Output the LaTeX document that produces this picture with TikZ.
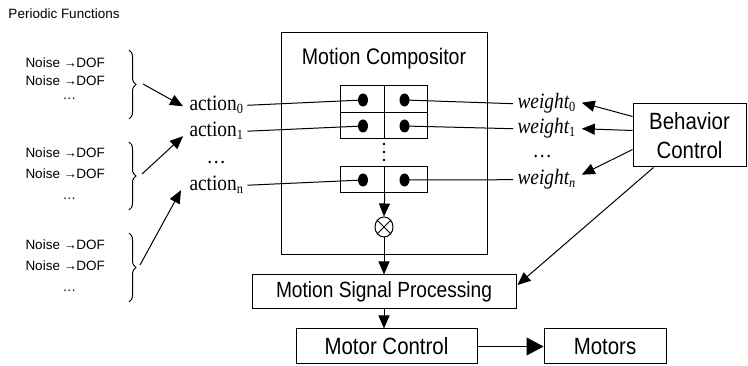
\documentclass[tikz,border=0pt]{standalone}
\usepackage{fontspec}
\setmainfont{Liberation Serif}
\setsansfont{Liberation Sans}
\newfontfamily\condsans{Liberation Sans}[FakeStretch=0.87]
\newfontfamily\condserif{Liberation Serif}[FakeStretch=0.88]
\usetikzlibrary{arrows.meta,shapes.geometric,decorations.pathreplacing}
\newcommand\fsz[2]{\fontsize{#1}{#2}\selectfont}
\newcommand\lowsub[1]{\raisebox{-3pt}{\fsz{14}{14}#1}}
\newcommand\nd{Noise →\kern-1pt DOF}
\begin{document}
\begin{tikzpicture}[x=1pt,y=-1pt,
  line width=1pt,
  arr/.style={-{Triangle[length=13pt,width=11pt]}},
  bigarr/.style={-{Triangle[length=17pt,width=18pt]}},
  box/.style={draw,line width=1pt,inner sep=0pt,font=\condsans},
  cellbox/.style={draw,line width=1pt,inner sep=0pt,minimum width=43.5pt,minimum height=26.5pt},
  blob/.style={ellipse,fill,inner sep=0pt,minimum width=10pt,minimum height=13pt},
  noise/.style={anchor=west,inner sep=0pt,font=\sffamily\fsz{13.5}{14}},
  ndots/.style={anchor=base west,inner sep=0pt,font=\sffamily\fsz{13.5}{14}},
  act/.style={anchor=base west,inner sep=0pt,font=\condserif\fsz{22}{22}},
  wt/.style={anchor=base west,inner xsep=4pt,inner ysep=0pt,font=\condserif\itshape\fsz{22}{22}},
  brc/.style={decorate,decoration={brace,amplitude=7pt},line width=1pt}
]
\useasboundingbox (0,0) rectangle (748,366);

% title
\node[anchor=west,inner sep=0pt,font=\sffamily\fsz{13.5}{14}] (pf) at (8,14) {Periodic Functions};

% noise groups
\node[noise] (n11) at (25,63) {\nd};
\node[noise] (n12) at (25,81) {\nd};
\node[ndots] (n13) at (62,100) {\dots};
\node[noise] (n21) at (25,153) {\nd};
\node[noise] (n22) at (25,174) {\nd};
\node[ndots] (n23) at (62,200) {\dots};
\node[noise] (n31) at (25,245) {\nd};
\node[noise] (n32) at (25,266) {\nd};
\node[ndots] (n33) at (62,292) {\dots};

\draw[brc] (129,50) -- (129,119);
\draw[brc] (129,142) -- (129,210);
\draw[brc] (129,233) -- (129,302);
\coordinate (b1) at (143,84);
\coordinate (b2) at (142,174);
\coordinate (b3) at (140,265);

% actions
\node[act] (a0) at (189,111) {action\lowsub{0}};
\node[act] (a1) at (189,137) {action\lowsub{1}};
\node[act] (ad) at (206,164) {\dots};
\node[act] (an) at (189,191) {action\lowsub{n}};

\draw[arr] (b1) -- ([xshift=-6pt,yshift=-1pt]a0.west);
\draw[arr] (b2) -- ([xshift=-6pt,yshift=-5pt]a1.west);
\draw[arr] (b3) -- ([xshift=-8pt,yshift=-5pt]an.west);

% compositor
\node[box,minimum width=206pt,minimum height=222pt] (comp) at (384,144) {};
\node[anchor=base,inner sep=0pt,font=\condsans\fsz{22.5}{23}] (ctitle) at (384,65) {Motion Compositor};

\node[cellbox] (c0l) at (362.5,99) {};
\node[cellbox] (c0r) at (406,99) {};
\node[cellbox] (c1l) at (362.5,125.5) {};
\node[cellbox] (c1r) at (406,125.5) {};
\node[cellbox] (cnl) at (362.5,179.5) {};
\node[cellbox] (cnr) at (406,179.5) {};

\node[blob] (d0l) at (363,100) {};
\node[blob] (d0r) at (404.5,100) {};
\node[blob] (d1l) at (363,126) {};
\node[blob] (d1r) at (404.5,126) {};
\node[blob] (dnl) at (363,180) {};
\node[blob] (dnr) at (404.5,180) {};

\fill (384,144) circle (1.3);
\fill (384,152) circle (1.3);
\fill (384,160) circle (1.3);

% weights
\node[wt] (w0) at (513,109) {weight\lowsub{\upshape 0}};
\node[wt] (w1) at (513,134) {weight\lowsub{\upshape 1}};
\node[act] (wd) at (532,158) {\dots};
\node[wt] (wn) at (513,185) {weight\lowsub{n}};

\draw ([xshift=4pt]a0.east) -- (d0l.center);
\draw ([xshift=4pt]a1.east) -- (d1l.center);
\draw ([xshift=4pt]an.east) -- (dnl.center);
\draw (d0r.center) -- (w0.west);
\draw (d1r.center) -- (w1.west);
\draw (dnr.center) -- (wn.west);

% otimes
\node[draw,ellipse,line width=1pt,minimum width=18pt,minimum height=20pt,inner sep=0pt] (ox) at (384,227) {};
\draw (ox.45) -- (ox.225);
\draw (ox.135) -- (ox.315);
\draw[arr] (cnl.south east) -- (ox.north);

% lower boxes
\node[box,minimum width=264pt,minimum height=34pt,font=\condsans\fsz{22}{22}] (msp) at (384,292) {Motion Signal Processing};
\node[box,minimum width=181pt,minimum height=35pt,font=\condsans\fsz{23.5}{24}] (mc) at (386.5,346.5) {Motor Control};
\node[box,minimum width=122pt,minimum height=35pt,font=\condsans\fsz{23.5}{24}] (mot) at (605,346.5) {Motors};

\draw[arr] (ox.south) -- (msp.north);
\draw[arr] (msp.south) -- (msp.south |- mc.north);
\draw[bigarr] (mc.east) -- (mot.west);

% behavior control
\node[box,minimum width=113pt,minimum height=63pt,align=center,font=\condsans\fsz{23.5}{29}] (bc) at (689.5,135.5) {Behavior\\Control};

\draw[arr] ([yshift=19pt]bc.west) -- ([xshift=2pt,yshift=1pt]w0.east);
\draw[arr] ([yshift=5pt]bc.west) -- ([xshift=2pt,yshift=0pt]w1.east);
\draw[arr] ([yshift=-14pt]bc.west) -- ([xshift=2pt,yshift=5pt]wn.east);
\draw[arr] ([xshift=-36pt]bc.south) -- ([xshift=1pt,yshift=7pt]msp.east);
\end{tikzpicture}
\end{document}
